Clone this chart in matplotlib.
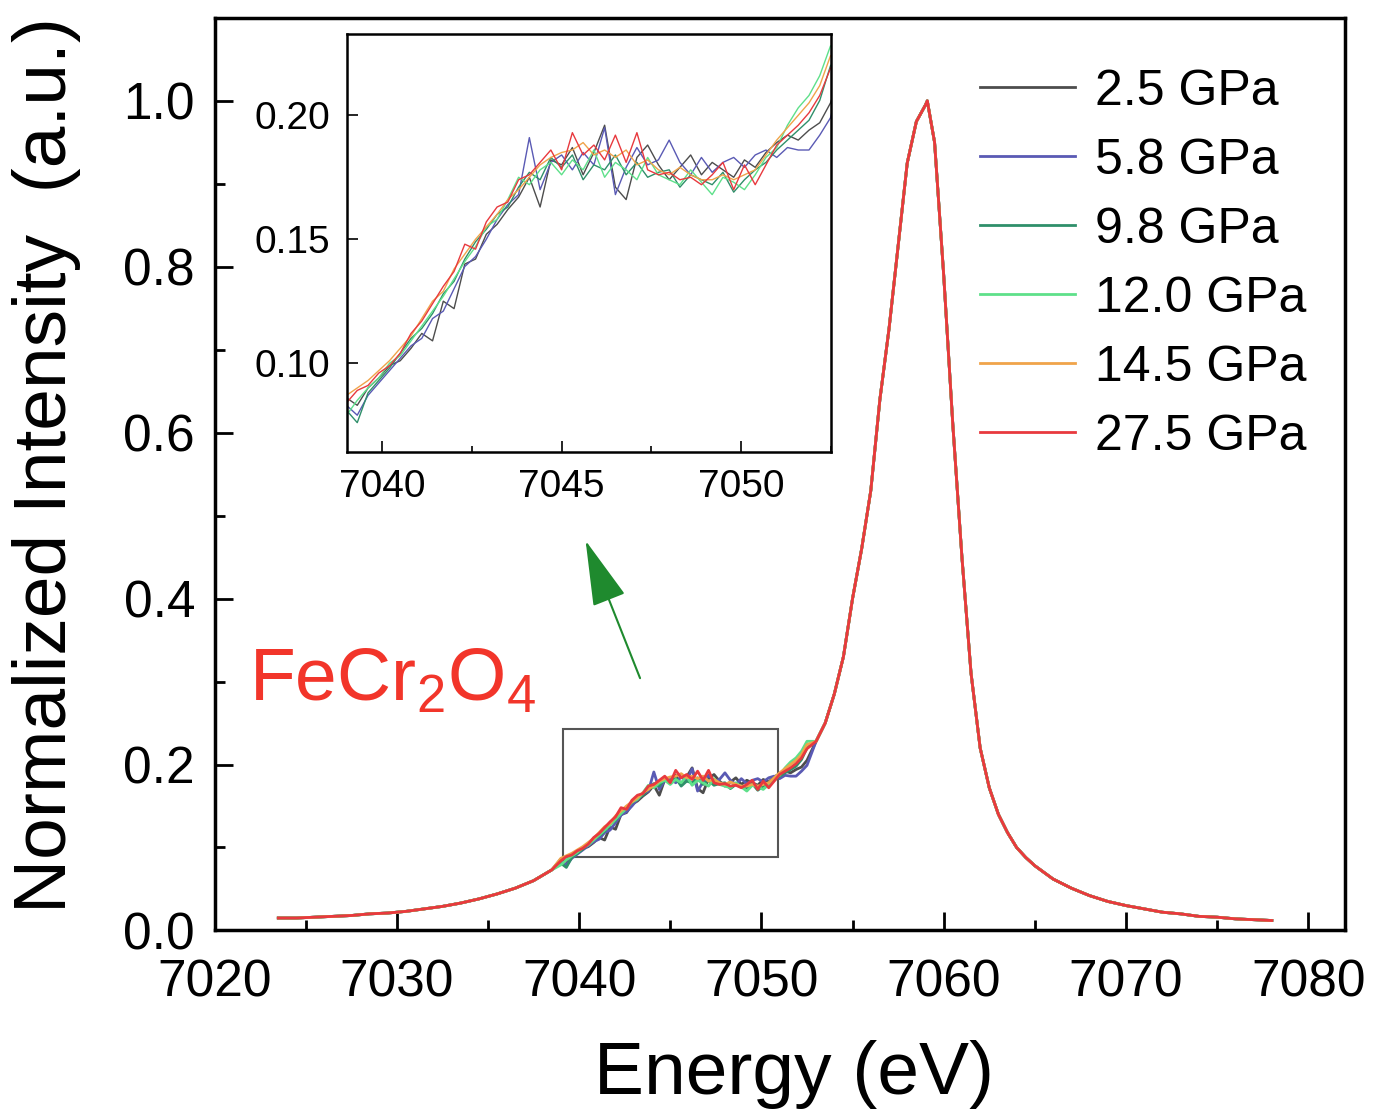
import numpy as np
import matplotlib
matplotlib.use("Agg")
import matplotlib.pyplot as plt
from matplotlib.patches import Rectangle
from matplotlib.ticker import MultipleLocator

plt.rcParams['font.family'] = ['Liberation Sans', 'DejaVu Sans']
plt.rcParams['mathtext.fontset'] = 'custom'
plt.rcParams['mathtext.rm'] = 'Liberation Sans'

# --- data ---
# pre-edge tail (shared by all pressures)
e_low = [7023.5, 7024.5, 7025.5, 7026.5, 7027.5, 7028.5, 7029.5, 7030.5,
         7031.5, 7032.5, 7033.5, 7034.5, 7035.5, 7036.5, 7037.5, 7038.5]
i_low = [0.015, 0.015, 0.016, 0.017, 0.018, 0.020, 0.021, 0.023,
         0.026, 0.029, 0.033, 0.038, 0.044, 0.051, 0.060, 0.073]

# pre-edge window shown in the inset (one curve per pressure)
e_mid = [7039.0, 7039.3, 7039.6, 7039.9, 7040.2, 7040.5, 7040.8, 7041.1, 7041.4, 7041.7,
         7042.0, 7042.3, 7042.6, 7042.9, 7043.2, 7043.5, 7043.8, 7044.1, 7044.4, 7044.7,
         7045.0, 7045.3, 7045.6, 7045.9, 7046.2, 7046.5, 7046.8, 7047.1, 7047.4, 7047.7,
         7048.0, 7048.3, 7048.6, 7048.9, 7049.2, 7049.5, 7049.8, 7050.1, 7050.4, 7050.7,
         7051.0, 7051.3, 7051.6, 7051.9, 7052.2, 7052.5]
i_25 = [0.086, 0.083, 0.090, 0.094, 0.099, 0.101, 0.106, 0.112, 0.109, 0.125,
        0.122, 0.140, 0.142, 0.152, 0.156, 0.162, 0.167, 0.175, 0.163, 0.182,
        0.180, 0.187, 0.176, 0.185, 0.196, 0.171, 0.166, 0.183, 0.188, 0.180,
        0.174, 0.179, 0.184, 0.176, 0.181, 0.178, 0.175, 0.182, 0.179, 0.185,
        0.189, 0.192, 0.190, 0.194, 0.197, 0.205]
i_58 = [0.083, 0.079, 0.087, 0.092, 0.097, 0.102, 0.107, 0.110, 0.118, 0.121,
        0.130, 0.139, 0.143, 0.150, 0.158, 0.164, 0.168, 0.191, 0.170, 0.181,
        0.184, 0.178, 0.185, 0.180, 0.195, 0.168, 0.179, 0.187, 0.180, 0.182,
        0.190, 0.181, 0.176, 0.183, 0.177, 0.181, 0.183, 0.179, 0.184, 0.186,
        0.183, 0.187, 0.186, 0.186, 0.192, 0.199]
i_98 = [0.081, 0.076, 0.088, 0.093, 0.098, 0.104, 0.110, 0.114, 0.120, 0.128,
        0.133, 0.142, 0.149, 0.154, 0.160, 0.163, 0.171, 0.177, 0.174, 0.183,
        0.179, 0.184, 0.174, 0.180, 0.178, 0.184, 0.176, 0.181, 0.175, 0.177,
        0.178, 0.171, 0.176, 0.174, 0.172, 0.177, 0.169, 0.174, 0.178, 0.181,
        0.186, 0.190, 0.194, 0.198, 0.206, 0.220]
i_120 = [0.079, 0.085, 0.090, 0.094, 0.100, 0.103, 0.109, 0.115, 0.121, 0.127,
         0.134, 0.141, 0.147, 0.155, 0.158, 0.166, 0.175, 0.172, 0.178, 0.181,
         0.176, 0.182, 0.178, 0.186, 0.175, 0.181, 0.178, 0.174, 0.183, 0.176,
         0.174, 0.172, 0.178, 0.173, 0.168, 0.175, 0.173, 0.170, 0.176, 0.183,
         0.187, 0.196, 0.203, 0.208, 0.216, 0.228]
i_145 = [0.087, 0.090, 0.093, 0.097, 0.101, 0.106, 0.111, 0.118, 0.125, 0.129,
         0.138, 0.144, 0.150, 0.155, 0.160, 0.166, 0.170, 0.175, 0.180, 0.183,
         0.185, 0.186, 0.189, 0.184, 0.186, 0.183, 0.186, 0.180, 0.182, 0.178,
         0.176, 0.179, 0.176, 0.174, 0.174, 0.176, 0.174, 0.176, 0.178, 0.184,
         0.190, 0.195, 0.200, 0.205, 0.212, 0.224]
i_275 = [0.084, 0.089, 0.091, 0.096, 0.099, 0.104, 0.112, 0.117, 0.124, 0.131,
         0.137, 0.148, 0.146, 0.157, 0.163, 0.165, 0.174, 0.176, 0.181, 0.186,
         0.178, 0.193, 0.184, 0.188, 0.182, 0.192, 0.181, 0.193, 0.178, 0.176,
         0.177, 0.174, 0.175, 0.172, 0.176, 0.181, 0.170, 0.180, 0.172, 0.180,
         0.188, 0.192, 0.196, 0.201, 0.208, 0.219]

# main edge and tail (shared by all pressures)
e_high = [7053.0, 7053.5, 7054.0, 7054.5, 7055.0, 7055.5, 7056.0, 7056.5, 7057.0,
          7057.5, 7058.0, 7058.5, 7059.0, 7059.1, 7059.5, 7060.0, 7060.5, 7061.0,
          7061.5, 7062.0, 7062.5, 7063.0, 7063.5, 7064.0, 7064.5, 7065.0, 7066.0,
          7067.0, 7068.0, 7069.0, 7070.0, 7071.0, 7072.0, 7073.0, 7074.0, 7075.0,
          7076.0, 7077.0, 7078.0]
i_high = [0.228, 0.250, 0.285, 0.330, 0.400, 0.460, 0.530, 0.640, 0.725,
          0.825, 0.925, 0.975, 0.995, 1.000, 0.950, 0.790, 0.610, 0.450,
          0.310, 0.220, 0.172, 0.140, 0.118, 0.100, 0.088, 0.078, 0.062,
          0.051, 0.042, 0.035, 0.030, 0.026, 0.022, 0.020, 0.017, 0.016,
          0.014, 0.013, 0.012]

labels = ['2.5 GPa', '5.8 GPa', '9.8 GPa', '12.0 GPa', '14.5 GPa', '27.5 GPa']
colors = ['#4d4d4d', '#5a5ab4', '#2f8f6a', '#5ee08a', '#f0a44a', '#e8393e']
mids = [i_25, i_58, i_98, i_120, i_145, i_275]

energy = e_low + e_mid + e_high

fig = plt.figure(figsize=(13.75, 11.17), dpi=100)
ax = fig.add_axes([0.156, 0.167, 0.822, 0.817])

for lab, col, mid in zip(labels, colors, mids):
    ax.plot(energy, i_low + mid + i_high, color=col, lw=2.0, label=lab)

ax.set_xlim(7020, 7082)
ax.set_ylim(0, 1.1)
ax.xaxis.set_major_locator(MultipleLocator(10))
ax.xaxis.set_minor_locator(MultipleLocator(5))
ax.yaxis.set_major_locator(MultipleLocator(0.2))
ax.yaxis.set_minor_locator(MultipleLocator(0.1))
ax.yaxis.set_major_formatter(plt.FormatStrFormatter('%.1f'))
ax.tick_params(which='both', direction='in', width=2, top=False, right=False)
ax.tick_params(which='major', length=13, labelsize=37, pad=14)
ax.tick_params(axis='x', which='major', pad=20)
ax.tick_params(which='minor', length=7)
for s in ax.spines.values():
    s.set_linewidth(2.5)

ax.set_xlabel('Energy (eV)', fontsize=54)
ax.set_ylabel('Normalized Intensity  (a.u.)', fontsize=54)
ax.xaxis.set_label_coords(0.513, -0.12)
ax.yaxis.set_label_coords(-0.118, 0.51)

ax.legend(loc='upper left', bbox_to_anchor=(0.677, 0.944), frameon=False,
          fontsize=36, handlelength=1.9, handletextpad=0.4, labelspacing=0.46,
          borderpad=0, borderaxespad=0)

# zoom box and arrow
ax.add_patch(Rectangle((7039.1, 0.089), 11.8, 0.154, fill=False,
                       edgecolor='#555555', lw=1.5))
ax.annotate('', xy=(7040.3, 0.473), xytext=(7043.4, 0.301),
            arrowprops=dict(arrowstyle='-|>,head_length=42,head_width=11',
                            mutation_scale=1, color='#1f8a2e', lw=1.5))
ax.text(7021.9, 0.277, r'FeCr$_\mathregular{2}$O$_\mathregular{4}$',
        color='#f2352a', fontsize=54, ha='left', va='baseline')

# inset
axin = fig.add_axes([0.252, 0.595, 0.352, 0.375])
e_in = e_low[-1:] + e_mid + e_high[:1]
for col, mid in zip(colors, mids):
    axin.plot(e_in, i_low[-1:] + mid + i_high[:1], color=col, lw=1.0)
axin.set_xlim(7039.0, 7052.5)
axin.set_ylim(0.064, 0.233)
axin.xaxis.set_major_locator(MultipleLocator(5))
axin.xaxis.set_minor_locator(MultipleLocator(2.5))
axin.yaxis.set_major_locator(MultipleLocator(0.05))
axin.yaxis.set_major_formatter(plt.FormatStrFormatter('%.2f'))
axin.tick_params(which='both', direction='in', width=1.2, top=False, right=False)
axin.tick_params(which='major', length=8, labelsize=28, pad=12)
axin.tick_params(which='minor', length=4)
for s in axin.spines.values():
    s.set_linewidth(1.8)

fig.savefig('out.png', dpi=100)
